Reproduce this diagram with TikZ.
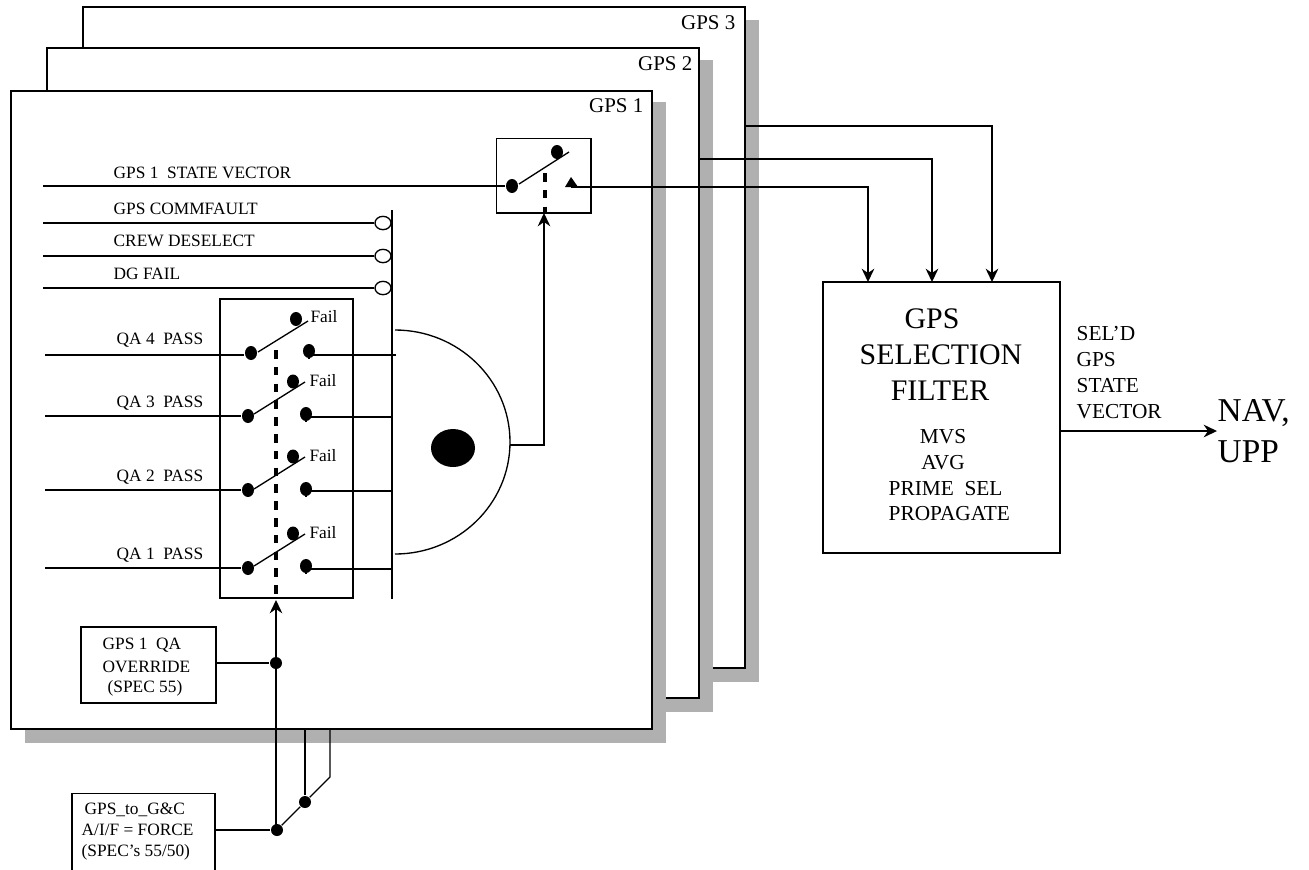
\documentclass[tikz,border=0pt]{standalone}
\usepackage{fontspec}
\setmainfont{Liberation Serif}
\usetikzlibrary{arrows.meta,positioning,calc,shapes.geometric}

\begin{document}
\begin{tikzpicture}[x=0.75pt,y=-0.75pt,>={Stealth[length=10pt,width=9.5pt]},line width=1pt,
 lab/.style={font=\fontsize{13}{15.75}\selectfont,inner sep=0pt},
 big/.style={font=\fontsize{22.4}{27}\selectfont,inner sep=0pt},
 mid/.style={font=\fontsize{16}{19.5}\selectfont,inner sep=0pt},
 gpslab/.style={font=\fontsize{15.7}{18}\selectfont,inner sep=0pt,anchor=east},
 sig/.style={lab,anchor=west},
 box/.style={draw,fill=white,inner sep=0pt,align=center,lab},
 sw/.style={draw=none,fill=black,ellipse,minimum width=9pt,minimum height=10.5pt,inner sep=0pt},
 jn/.style={draw=none,fill=black,circle,minimum size=9pt,inner sep=0pt},
 inv/.style={draw,fill=white,ellipse,minimum width=12pt,minimum height=10pt,inner sep=0pt},
 bar/.style={line width=3.4pt,dash pattern=on 6.4pt off 6.2pt},
 shad/.style={fill=black!31,draw=none}]
\useasboundingbox (0,0) rectangle (1309,869);
% stacked cards
\fill[shad] (97,20) rectangle (759,682);
\draw[fill=white] (83,7) rectangle (745,668);
\fill[shad] (61,60) rectangle (713,712);
\draw[fill=white] (47,48) rectangle (699,698);
\fill[shad] (25,102) rectangle (666,743);
\draw[fill=white] (11,91) rectangle (652,729);
\node[gpslab] (g3) at (736,23) {GPS 3};
\node[gpslab] (g2) at (693,64) {GPS 2};
\node[gpslab] (g1) at (644,106) {GPS 1};
% state vector switch
\node[box,minimum width=71pt,minimum height=56pt] (svbox) at (543.5,175.5) {};
\node[sw] (svA) at (512,186) {};
\node[sw] (svB) at (557,152) {};
\coordinate (svIn) at (43,186);
\coordinate (svTipA) at (519,184);
\coordinate (svTipB) at (569,152);
\fill (571,177) -- (578,187) -- (565,187) -- cycle;
\coordinate (svOut) at (571,187);
\draw (svIn) -- (svA);
\draw (svTipA) -- (svTipB);
\draw[bar] (545,173) -- (545,213);
% inhibits
\draw (392,210) -- (392,599);
\node[inv] (c1) at (383,223) {};
\node[inv] (c2) at (383,256) {};
\node[inv] (c3) at (383,288) {};
\coordinate (i1) at (43,223);
\coordinate (i2) at (43,256);
\coordinate (i3) at (43,288);
\draw (i1) -- (c1);
\draw (i2) -- (c2);
\draw (i3) -- (c3);
\node[sig] (tsv) at (113,173) {GPS 1\ \ STATE VECTOR};
\node[sig] (t1) at (113,209) {GPS COMMFAULT};
\node[sig] (t2) at (113,241) {CREW DESELECT};
\node[sig] (t3) at (113,274) {DG FAIL};
% QA switches
\node[box,minimum width=99.75pt,minimum height=224.25pt] (qabox) at (286.5,448.5) {};
\foreach \n/\ya/\yb/\yl/\yc in {3/416/414/403/417,2/490/489/477/491,1/568/566/555/569}{
 \node[sw] (a\n) at (248,\ya) {};
 \node[sw] (b\n) at (306,\yb) {};
 \node[sw] (u\n) at (293,\yb-32.5) {};
 \coordinate (in\n) at (45,\ya);
 \coordinate (out\n) at (392,\yc);
 \draw (in\n) -- (a\n);
 \draw (b\n) |- (out\n);
 \draw (254,\yb) -- (305,\yb-32);
 \node[sig] (t\n) at (116,\yl) {QA \n\ \ PASS};
 \node[lab] (f\n) at (323,\yb-33) {Fail};
}
\node[sw] (a4) at (251,353) {};
\node[sw] (b4) at (309,351) {};
\node[sw] (u4) at (296,319) {};
\coordinate (in4) at (45,355);
\coordinate (out4) at (396,355);
\draw (in4) -- (a4.west|-in4);
\draw (b4) |- (out4);
\draw (258,352) -- (308,321);
\node[sig] (t4) at (116,340) {QA 4\ \ PASS};
\node[lab] (f4) at (324,317) {Fail};
\draw[bar] (276,350) -- (276,598);
% voter
\draw (395,330) arc[start angle=-90,end angle=90,x radius=115,y radius=112];
\node[draw=none,fill=black,ellipse,minimum width=33pt,minimum height=28.5pt,inner sep=0pt] (vdot) at (453,448) {};
\coordinate (vout) at (510,445);
\draw[->] (vout) -| (544,213);
% overrides
\node[box,minimum width=101.25pt,minimum height=57pt] (qaor) at (148.5,665) {};
\node[sig] (qaorA) at (102,645) {GPS 1\ \ QA};
\node[sig] (qaorB) at (102,667) {OVERRIDE};
\node[sig] (qaorC) at (107,688) {(SPEC 55)};
\node[box,minimum width=107.25pt,minimum height=59pt,anchor=north] (force) at (143.5,793) {};
\node[sig] (forceA) at (84,810) {GPS\_to\_G\&C};
\node[sig] (forceB) at (81,830) {A/I/F = FORCE};
\node[sig] (forceC) at (81,852) {(SPEC’s 55/50)};
\node[jn] (jA) at (276,663) {};
\node[jn] (jB) at (277,830) {};
\node[jn] (jC) at (305,802) {};
\coordinate (k) at (330,777);
\draw (qaor.east|-jA) -- (jA);
\draw (force.east|-jB) -- (jB);
\draw[->] (276,830) -- (276,600);
\draw (jB) -- (jC) -- (k) -- (330,729);
\draw (jC) -- (305,729);
% selection filter
\node[box,minimum width=177.75pt,minimum height=203.25pt] (filt) at (941.5,417.5) {};
\node[big] (fa) at (932,319) {GPS};
\node[big] (fb) at (941,355) {SELECTION};
\node[big] (fc) at (940,391) {FILTER};
\node[mid] (fd) at (943,437) {MVS};
\node[mid] (fe) at (943,463) {AVG};
\node[mid,anchor=west] (ff) at (888,489) {PRIME\ \ SEL};
\node[mid,anchor=west] (fg) at (888,514) {PROPAGATE};
\draw[->] (svOut) -| (868,282);
\draw[->] (699,159) -| (932,282);
\draw[->] (745,126) -| (992,282);
\node[mid,align=left,anchor=west] (sel) at (1076,373) {SEL’D\\GPS\\STATE\\VECTOR};
\node[font=\fontsize{25}{30.5}\selectfont,align=left,inner sep=0pt,anchor=west] (nav) at (1217,431) {NAV,\\UPP};
\draw[->] (filt.east|-nav) -- (nav.west);
\end{tikzpicture}
\end{document}
